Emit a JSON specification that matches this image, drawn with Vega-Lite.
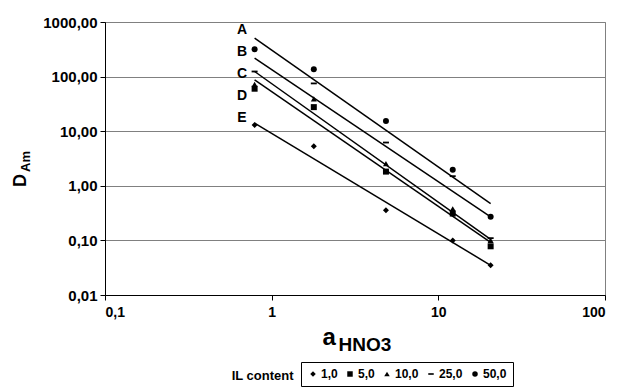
{
  "$schema": "https://vega.github.io/schema/vega-lite/v6.json",
  "width": 500,
  "height": 273,
  "autosize": {"type": "none"},
  "padding": {"left": 105, "top": 22, "right": 23, "bottom": 92},
  "background": "white",
  "config": {
    "view": {"stroke": "#808080", "strokeWidth": 1},
    "font": "Liberation Sans",
    "axis": {"domainColor": "black", "tickColor": "black", "labelColor": "black", "titleColor": "black", "labelFont": "Liberation Sans", "titleFont": "Liberation Sans", "labelFontWeight": "bold", "titleFontWeight": "bold"}
  },
  "datasets": {
    "pts": [
      {"a": 0.79, "D": 13, "IL": "1,0"},
      {"a": 1.79, "D": 5.3, "IL": "1,0"},
      {"a": 4.85, "D": 0.355, "IL": "1,0"},
      {"a": 12.2, "D": 0.1, "IL": "1,0"},
      {"a": 20.6, "D": 0.035, "IL": "1,0"},
      {"a": 0.79, "D": 60, "IL": "5,0"},
      {"a": 1.79, "D": 27.6, "IL": "5,0"},
      {"a": 4.85, "D": 1.82, "IL": "5,0"},
      {"a": 12.2, "D": 0.31, "IL": "5,0"},
      {"a": 20.6, "D": 0.078, "IL": "5,0"},
      {"a": 0.79, "D": 72, "IL": "10,0"},
      {"a": 1.79, "D": 39, "IL": "10,0"},
      {"a": 4.85, "D": 2.55, "IL": "10,0"},
      {"a": 12.2, "D": 0.38, "IL": "10,0"},
      {"a": 20.6, "D": 0.1, "IL": "10,0"},
      {"a": 0.79, "D": 124, "IL": "25,0"},
      {"a": 1.79, "D": 75, "IL": "25,0"},
      {"a": 4.85, "D": 6.2, "IL": "25,0"},
      {"a": 12.2, "D": 1.5, "IL": "25,0"},
      {"a": 20.6, "D": 0.11, "IL": "25,0"},
      {"a": 0.79, "D": 318, "IL": "50,0"},
      {"a": 1.79, "D": 136, "IL": "50,0"},
      {"a": 4.85, "D": 15.4, "IL": "50,0"},
      {"a": 12.2, "D": 1.96, "IL": "50,0"},
      {"a": 20.6, "D": 0.27, "IL": "50,0"}
    ],
    "fits": [
      {"line": "A", "a": 0.79, "D": 505},
      {"line": "A", "a": 20.6, "D": 0.47},
      {"line": "B", "a": 0.79, "D": 217},
      {"line": "B", "a": 20.6, "D": 0.27},
      {"line": "C", "a": 0.79, "D": 124},
      {"line": "C", "a": 20.6, "D": 0.104},
      {"line": "D", "a": 0.79, "D": 87},
      {"line": "D", "a": 20.6, "D": 0.092},
      {"line": "E", "a": 0.79, "D": 14},
      {"line": "E", "a": 20.6, "D": 0.035}
    ],
    "letters": [
      {"t": "A", "a": 0.664, "D": 720},
      {"t": "B", "a": 0.664, "D": 280},
      {"t": "C", "a": 0.664, "D": 112},
      {"t": "D", "a": 0.664, "D": 44},
      {"t": "E", "a": 0.664, "D": 17.7}
    ]
  },
  "layer": [
    {
      "data": {"name": "pts"},
      "mark": {"type": "point", "filled": true, "color": "black", "size": 36, "opacity": 1},
      "encoding": {
        "x": {"field": "a", "type": "quantitative",
          "scale": {"type": "log", "domain": [0.1, 100], "nice": false, "zero": false},
          "axis": {"orient": "bottom", "values": [0.1, 1, 10, 100], "labelExpr": "replace(format(datum.value, '~g'), '.', ',')", "labelFontSize": 14, "labelPadding": 5, "tickSize": 5, "grid": false,
            "title": "a", "titleFontSize": 24, "titleAlign": "left", "titleBaseline": "alphabetic", "titleX": 217, "titleY": 49, "titleAngle": 0}},
        "y": {"field": "D", "type": "quantitative",
          "scale": {"type": "log", "domain": [0.01, 1000], "nice": false, "zero": false},
          "axis": {"orient": "left", "values": [0.01, 0.1, 1, 10, 100, 1000], "labelExpr": "replace(format(datum.value, '.2f'), '.', ',')", "labelFontSize": 15, "labelPadding": 3, "tickSize": 5, "grid": true, "gridColor": "#808080", "gridWidth": 1,
            "title": "D", "titleFontSize": 18, "titleAngle": 270, "titleAlign": "center", "titleBaseline": "alphabetic", "titleX": -80, "titleY": 158}},
        "shape": {"field": "IL", "type": "nominal",
          "scale": {"domain": ["1,0", "5,0", "10,0", "25,0", "50,0"], "range": ["diamond", "square", "triangle-up", "M-1,-0.3H1V0.3H-1Z", "circle"]},
          "legend": {"title": null, "orient": "none", "legendX": 196, "legendY": 340, "direction": "horizontal", "columns": 5, "strokeColor": "black", "padding": 6, "columnPadding": 6, "labelFont": "Liberation Sans", "labelFontWeight": "bold", "labelFontSize": 12, "labelColor": "black", "labelOffset": 2, "symbolSize": 30, "symbolFillColor": "black", "symbolStrokeWidth": 0}}
      }
    },
    {
      "data": {"name": "fits"},
      "mark": {"type": "line", "color": "black", "strokeWidth": 1.5},
      "encoding": {
        "x": {"field": "a", "type": "quantitative",
          "axis": {"orient": "bottom", "labels": false, "ticks": false, "domain": false, "grid": false,
            "title": "HNO3", "titleFontSize": 19, "titleAlign": "left", "titleBaseline": "alphabetic", "titleX": 233, "titleY": 55, "titleAngle": 0}},
        "y": {"field": "D", "type": "quantitative",
          "axis": {"orient": "left", "labels": false, "ticks": false, "domain": false, "grid": false,
            "title": "Am", "titleFontSize": 13, "titleAngle": 270, "titleAlign": "center", "titleBaseline": "alphabetic", "titleX": -76, "titleY": 139}},
        "detail": {"field": "line", "type": "nominal"}
      }
    },
    {
      "data": {"name": "letters"},
      "mark": {"type": "text", "font": "Liberation Sans", "fontWeight": "bold", "fontSize": 14, "color": "black", "align": "center", "baseline": "middle"},
      "encoding": {
        "x": {"field": "a", "type": "quantitative",
          "axis": {"orient": "bottom", "labels": false, "ticks": false, "domain": false, "grid": false,
            "title": "IL content", "titleFontSize": 13, "titleAlign": "right", "titleBaseline": "alphabetic", "titleX": 188, "titleY": 84, "titleAngle": 0}},
        "y": {"field": "D", "type": "quantitative", "axis": null},
        "text": {"field": "t"}
      }
    }
  ],
  "resolve": {"axis": {"x": "independent", "y": "independent"}}
}
